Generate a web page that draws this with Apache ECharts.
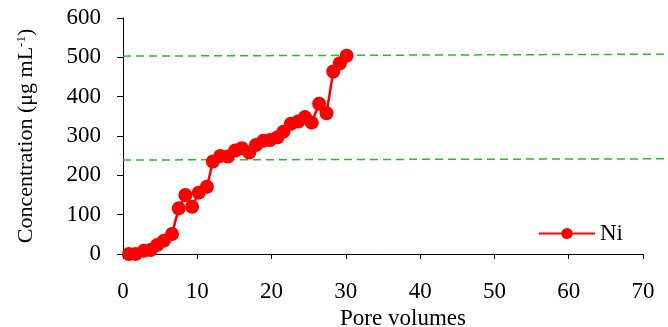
<!DOCTYPE html>
<html>
<head>
<meta charset="utf-8">
<script src="https://cdn.jsdelivr.net/npm/echarts@6/dist/echarts.min.js"></script>
<style>html,body{margin:0;padding:0;background:#fff;}#c{width:668px;height:327px;}</style>
</head>
<body>
<div id="c"></div>
<script>
var poreVolumes = [0.8,1.7,2.8,3.7,4.6,5.5,6.6,7.5,8.4,9.3,10.2,11.3,12.1,13.1,14.1,15.1,16.0,17.0,17.9,18.9,19.8,20.8,21.6,22.6,23.6,24.5,25.4,26.4,27.4,28.3,29.2,30.1];
var niConc = [0,0,8,10,23,34,51,116,150,120,156,171,235,249,248,263,269,258,277,288,290,297,311,331,337,348,334,382,358,464,485,504];
var upperRefX = [0,73.4];
var upperRefY = [503,508];
var lowerRefX = [0,73.4];
var lowerRefY = [239,242];
var seriesName = 'Ni';

function pairs(xs, ys){ return xs.map(function(x,i){ return [x, ys[i]]; }); }

var font = 'Liberation Serif, Times New Roman, serif';
var chart = echarts.init(document.getElementById('c'));
chart.setOption({
  animation: false,
  grid: [
    {left: 123, right: 25, top: 18, bottom: 73, containLabel: false, outerBoundsMode: 'none'},
    {left: 123, right: 0, top: 18, bottom: 73, containLabel: false, outerBoundsMode: 'none'}
  ],
  legend: {
    data: [seriesName],
    right: 40, top: 217,
    itemWidth: 56, itemHeight: 14, itemGap: 6,
    textStyle: {fontFamily: font, fontSize: 23, color: '#000'}
  },
  xAxis: [{
    type: 'value', min: 0, max: 70, interval: 10, gridIndex: 0,
    name: 'Pore volumes', nameLocation: 'middle', nameGap: 53,
    nameTextStyle: {fontFamily: font, fontSize: 23, color: '#000', padding: [0,0,0,40]},
    axisLine: {lineStyle: {color: '#000', width: 1}},
    axisTick: {inside: false, length: 5, lineStyle: {color: '#000'}},
    axisLabel: {fontFamily: font, fontSize: 23, color: '#000', margin: 26},
    splitLine: {show: false}
  }, {
    type: 'value', min: 0, max: 73.4, gridIndex: 1, show: false
  }],
  yAxis: [{
    type: 'value', min: 0, max: 600, interval: 100, gridIndex: 0,
    name: '{n|Concentration (μg mL}{s|-1}{n|)}', nameLocation: 'middle', nameGap: 85,
    nameTextStyle: {fontFamily: font, fontSize: 22, color: '#000',
      rich: {n: {fontFamily: font, fontSize: 22, color: '#000'}, s: {fontFamily: font, fontSize: 13, color: '#000', verticalAlign: 'top', padding: [0,0,10,0]}}},
    axisLine: {show: true, lineStyle: {color: '#000', width: 1}},
    axisTick: {show: true, length: 6, lineStyle: {color: '#000'}},
    axisLabel: {fontFamily: font, fontSize: 23, color: '#000', margin: 22},
    splitLine: {show: false}
  }, {
    type: 'value', min: 0, max: 600, gridIndex: 1, show: false
  }],
  series: [
    {
      type: 'line', name: 'upper', data: pairs(upperRefX, upperRefY),
      xAxisIndex: 1, yAxisIndex: 1, clip: false,
      symbol: 'none', silent: true,
      lineStyle: {color: '#22C422', width: 1.5, type: [8,5]}
    },
    {
      type: 'line', name: 'lower', data: pairs(lowerRefX, lowerRefY),
      xAxisIndex: 1, yAxisIndex: 1, clip: false,
      symbol: 'none', silent: true,
      lineStyle: {color: '#22C422', width: 1.5, type: [8,5]}
    },
    {
      type: 'line', name: seriesName, data: pairs(poreVolumes, niConc), clip: false,
      symbol: 'circle', symbolSize: 14,
      itemStyle: {color: '#FF0000'},
      lineStyle: {color: '#FF0000', width: 2.5}
    }
  ]
});
</script>
</body>
</html>
